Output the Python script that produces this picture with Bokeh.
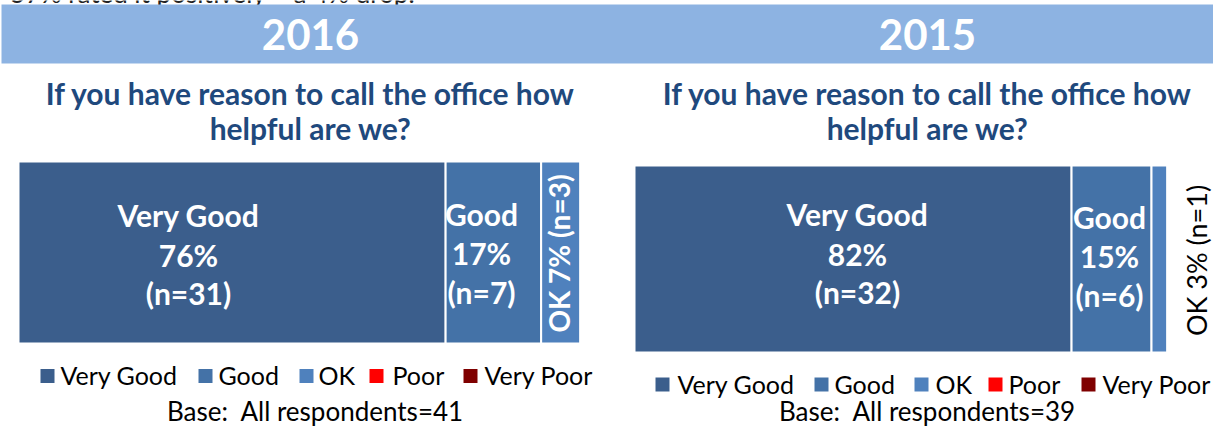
import numpy as np
from bokeh.plotting import figure
from bokeh.models import Range1d, ColumnDataSource
from bokeh.core.properties import value
from bokeh.embed import file_html
from bokeh.resources import INLINE

# ---------------- data ----------------
categories = ["Very Good", "Good", "OK", "Poor", "Very Poor"]
colors = ["#3B5E8C", "#4472A7", "#4F81BD", "#FF0000", "#7F0000"]
years = ["2016", "2015"]
pct_2016 = [76, 17, 7, 0, 0]
n_2016 = [31, 7, 3, 0, 0]
pct_2015 = [82, 15, 3, 0, 0]
n_2015 = [32, 6, 1, 0, 0]
base_n = [41, 39]
question = ["If you have reason to call the office how", "helpful are we?"]
headline = "57% rated it positively \u2013 a 4% drop."

# ---------------- layout (pixels, page coords; figure sits at 8,8) ----------------
W, H = 1213, 428
OFF = 8
FONT = value("Lato")
TITLE_COLOR = "#1F497D"
BAND_COLOR = "#8DB3E2"
BASE_SHIFT = 0.35  # baseline correction (em) for alphabetic text placement


def fx(v):
    return v - OFF


def fy(v):
    return v - OFF


p = figure(width=W, height=H, x_range=Range1d(0, W), y_range=Range1d(H, 0),
           output_backend="svg", toolbar_location=None, min_border=0,
           x_axis_location=None, y_axis_location=None)
p.grid.visible = False
p.outline_line_color = None
p.background_fill_color = "white"
p.border_fill_color = "white"


def T(xs, ys, texts, size, style="normal", color="black", align="center"):
    p.text(x=xs, y=[y - BASE_SHIFT * size for y in ys], text=texts, text_font=FONT,
           text_font_size=f"{size}px", text_font_style=style, text_color=color,
           text_align=align, text_baseline="alphabetic")


# cut-off headline (clipped by the top edge as in the original)
T([fx(18)], [2], [headline], 26, color="#222222", align="left")

# header band
p.quad(left=[fx(9)], right=[W], top=[fy(12)], bottom=[fy(71)],
       fill_color=BAND_COLOR, line_color=None)

panels = [
    dict(year=years[0], pct=pct_2016, n=n_2016, base=base_n[0], cx=318,
         x0=26, x1=588, top=169, bot=351,
         lab_vg=(196, [233, 273, 311]), lab_g=(489, [232, 271, 310]),
         ok=(566, 261, "bold", "white", 28),
         leg_y=383.5, leg_sq=[55, 213, 314, 384, 478], leg_tx=[68, 226, 326, 400, 492], leg_base=391,
         base_x=323, base_y=428),
    dict(year=years[1], pct=pct_2015, n=n_2015, base=base_n[1], cx=935,
         x0=642, x1=1175, top=173, bot=360,
         lab_vg=(865, [232, 272, 310]), lab_g=(1117, [235, 274, 313]),
         ok=(1204, 268, "normal", "black", 27),
         leg_y=392, leg_sq=[670, 829, 929, 1003, 1096], leg_tx=[685, 842, 943, 1016, 1110], leg_base=400,
         base_x=935, base_y=428),
]

for i, pn in enumerate(panels):
    # year heading
    T([fx(pn["cx"])], [fy(57)], [pn["year"]], 42, "bold", "white")
    # question title
    T([fx(pn["cx"])] * 2, [fy(111), fy(146)], question, 30, "bold", TITLE_COLOR)

    # stacked bar through its own x scale (0..100 %)
    px0, px100 = fx(pn["x0"]), fx(pn["x1"])
    sc = (px100 - px0) / 100.0
    rname = "r" + pn["year"]
    p.extra_x_ranges[rname] = Range1d(-px0 / sc, (W - px0) / sc)
    vals = np.array(pn["pct"], dtype=float)
    right = np.cumsum(vals)
    left = right - vals
    src = ColumnDataSource(dict(y=[fy((pn["top"] + pn["bot"]) / 2)] * len(vals),
                                left=left, right=right, color=colors, cat=categories))
    p.hbar(y="y", left="left", right="right", height=pn["bot"] - pn["top"],
           fill_color="color", line_color="white", line_width=2,
           source=src, x_range_name=rname)

    # in-bar labels
    vgx, vgy = pn["lab_vg"]
    T([fx(vgx)] * 3, [fy(v) for v in vgy],
      [categories[0], f"{pn['pct'][0]}%", f"(n={pn['n'][0]})"], 30, "bold", "white")
    gx, gy = pn["lab_g"]
    T([fx(gx)] * 3, [fy(v) for v in gy],
      [categories[1], f"{pn['pct'][1]}%", f"(n={pn['n'][1]})"], 30, "bold", "white")
    okx, oky, okstyle, okcol, oksize = pn["ok"]
    p.text(x=[fx(okx)], y=[fy(oky)], text=[f"{categories[2]} {pn['pct'][2]}% (n={pn['n'][2]})"],
           angle=np.pi / 2, text_font=FONT, text_font_size=f"{oksize}px", text_font_style=okstyle,
           text_color=okcol, text_align="center", text_baseline="middle")

    # legend
    p.scatter(x=[fx(v) for v in pn["leg_sq"]], y=[fy(pn["leg_y"])] * 5, marker="square",
              size=14, fill_color=colors, line_color=None)
    T([fx(v) for v in pn["leg_tx"]], [fy(pn["leg_base"])] * 5, categories, 25, align="left")

    # base
    T([fx(pn["base_x"])], [fy(pn["base_y"])], [f"Base:\u00a0 All respondents={pn['base']}"], 26)

open("out.html", "w").write(file_html(p, INLINE))
